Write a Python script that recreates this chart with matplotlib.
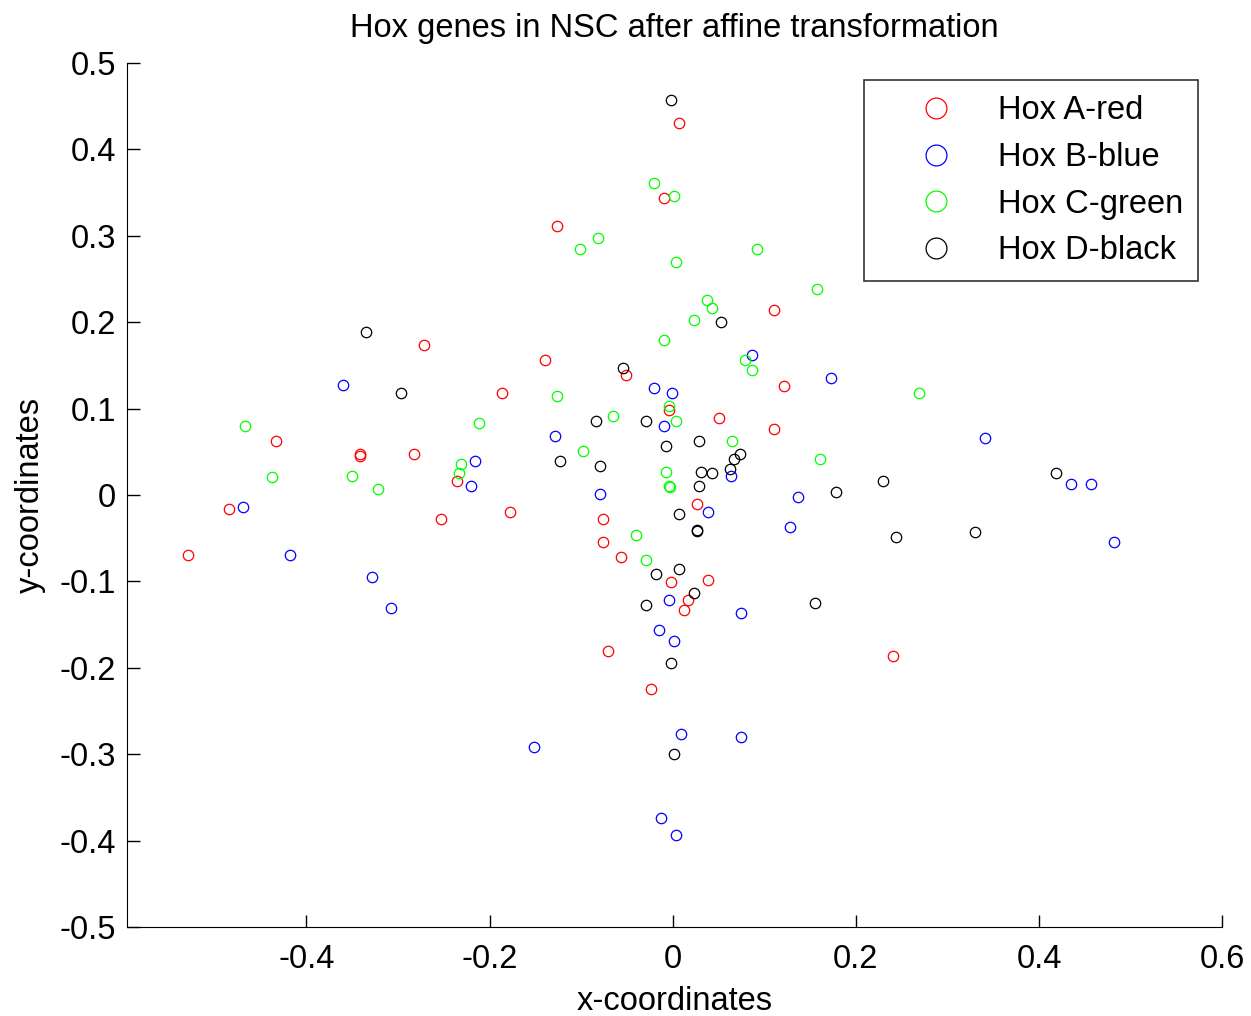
import numpy as np
import matplotlib
matplotlib.use("Agg")
import matplotlib.pyplot as plt

plt.rcParams['font.family'] = ['Liberation Sans', 'DejaVu Sans']
plt.rcParams['axes.unicode_minus'] = False

# Hox A (red)
hoxa_x = [-0.529, -0.485, -0.433, -0.342, -0.341, -0.283, -0.272, -0.253, -0.236, -0.187,
          -0.178, -0.140, -0.126, -0.051, -0.076, -0.076, -0.057, -0.071, -0.024, -0.010,
          0.007, -0.004, 0.026, -0.002, 0.012, 0.017, 0.039, 0.050, 0.111, 0.111, 0.122, 0.241]
hoxa_y = [-0.069, -0.016, 0.063, 0.047, 0.045, 0.047, 0.174, -0.028, 0.016, 0.118,
          -0.020, 0.156, 0.311, 0.139, -0.028, -0.054, -0.072, -0.181, -0.225, 0.344,
          0.431, 0.098, -0.010, -0.101, -0.133, -0.122, -0.098, 0.089, 0.214, 0.076, 0.126, -0.186]

# Hox B (blue)
hoxb_x = [-0.469, -0.418, -0.360, -0.328, -0.308, -0.220, -0.216, -0.151, -0.129, -0.079,
          -0.021, -0.001, -0.010, -0.004, -0.015, 0.001, 0.009, -0.013, 0.004, 0.039,
          0.064, 0.086, 0.075, 0.075, 0.128, 0.137, 0.173, 0.341, 0.435, 0.457, 0.482]
hoxb_y = [-0.014, -0.069, 0.127, -0.095, -0.131, 0.010, 0.039, -0.292, 0.068, 0.001,
          0.124, 0.118, 0.080, -0.122, -0.156, -0.169, -0.277, -0.374, -0.394, -0.020,
          0.022, 0.162, -0.137, -0.280, -0.037, -0.002, 0.135, 0.066, 0.013, 0.013, -0.054]

# Hox C (green)
hoxc_x = [-0.467, -0.438, -0.350, -0.322, -0.231, -0.233, -0.212, -0.126, -0.101, -0.082,
          -0.098, -0.065, -0.021, 0.001, 0.004, -0.010, -0.004, 0.004, -0.007, -0.004,
          -0.003, -0.040, -0.029, 0.023, 0.037, 0.043, 0.092, 0.158, 0.079, 0.087,
          0.065, 0.161, 0.269]
hoxc_y = [0.080, 0.021, 0.022, 0.007, 0.036, 0.025, 0.083, 0.115, 0.285, 0.297,
          0.051, 0.092, 0.361, 0.346, 0.270, 0.179, 0.103, 0.086, 0.027, 0.010,
          0.009, -0.046, -0.075, 0.203, 0.226, 0.217, 0.285, 0.238, 0.156, 0.145,
          0.062, 0.042, 0.118]

# Hox D (black)
hoxd_x = [-0.335, -0.297, -0.123, -0.084, -0.054, -0.079, -0.029, -0.007, 0.007, -0.018,
          0.007, -0.029, -0.002, 0.023, 0.026, 0.026, 0.029, 0.031, 0.043, 0.029,
          0.062, 0.067, 0.073, 0.053, -0.002, 0.178, 0.155, 0.001, 0.230, 0.244,
          0.330, 0.418]
hoxd_y = [0.189, 0.118, 0.039, 0.086, 0.147, 0.033, 0.086, 0.057, -0.022, -0.092,
          -0.086, -0.127, -0.195, -0.113, -0.040, -0.042, 0.062, 0.027, 0.025, 0.010,
          0.030, 0.042, 0.048, 0.200, 0.457, 0.004, -0.125, -0.300, 0.016, -0.049,
          -0.043, 0.025]

series = [
    (hoxa_x, hoxa_y, '#ff0000', 'Hox A-red'),
    (hoxb_x, hoxb_y, '#0000ff', 'Hox B-blue'),
    (hoxc_x, hoxc_y, '#00ff00', 'Hox C-green'),
    (hoxd_x, hoxd_y, '#000000', 'Hox D-black'),
]

FS = 23.5

fig = plt.figure(figsize=(12.51, 10.16), dpi=100)
ax = fig.add_axes([0.1015, 0.0876, 0.8755, 0.8504])

for xs, ys, col, lab in series:
    ax.plot(xs, ys, 'o', mfc='none', mec=col, ms=7.5, mew=0.9, label=lab)

ax.set_xlim(-0.596, 0.6)
ax.set_ylim(-0.5, 0.5)

xt = [-0.4, -0.2, 0, 0.2, 0.4, 0.6]
ax.set_xticks(xt)
ax.set_xticklabels(['-0.4', '-0.2', '0', '0.2', '0.4', '0.6'])
yt = [0.5, 0.4, 0.3, 0.2, 0.1, 0, -0.1, -0.2, -0.3, -0.4, -0.5]
ax.set_yticks(yt)
ax.set_yticklabels(['0.5', '0.4', '0.3', '0.2', '0.1', '0', '-0.1', '-0.2', '-0.3', '-0.4', '-0.5'])

ax.tick_params(direction='in', length=9, width=1, labelsize=FS)
ax.tick_params(axis='x', pad=12)
ax.tick_params(axis='y', pad=8)
ax.spines['top'].set_visible(False)
ax.spines['right'].set_visible(False)

ax.set_xlabel('x-coordinates', fontsize=FS, labelpad=8)
ax.set_ylabel('y-coordinates', fontsize=FS, labelpad=10)
ax.set_title('Hox genes in NSC after affine transformation', fontsize=FS, pad=19)

leg = ax.legend(loc='upper right', bbox_to_anchor=(0.978, 0.980), fontsize=FS,
                markerscale=2.0, frameon=True, fancybox=False, borderpad=0.46,
                labelspacing=0.48, handletextpad=0.15, handlelength=3.5,
                borderaxespad=0)
leg.get_frame().set_edgecolor('black')
leg.get_frame().set_linewidth(1.2)
for h in leg.legend_handles:
    h.set_markeredgewidth(0.9)

fig.savefig('out.png', dpi=100)
